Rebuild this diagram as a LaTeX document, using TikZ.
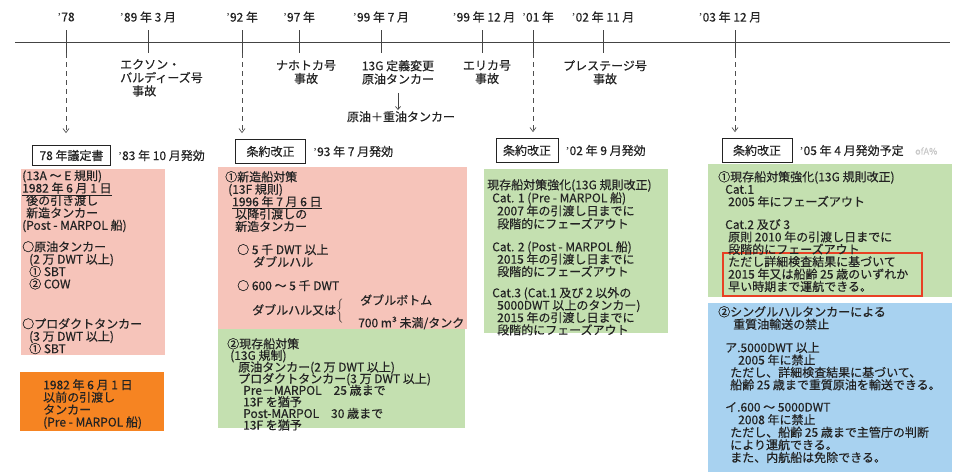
\documentclass[tikz,border=0pt]{standalone}
\usepackage{fontspec}
\setmainfont{Noto Sans CJK JP}[FakeBold=0.4]
\newfontfamily\latinfont{Liberation Serif}
\usetikzlibrary{positioning,arrows.meta}

\definecolor{ink}{RGB}{35,35,35}
\definecolor{pinkbox}{RGB}{246,196,186}
\definecolor{orangebox}{RGB}{246,132,34}
\definecolor{greenbox}{RGB}{196,224,176}
\definecolor{bluebox}{RGB}{168,210,240}
\definecolor{redframe}{RGB}{232,64,36}
\newcommand\ap{{\latinfont ’}}
\newcommand\txtsize{\fontsize{12}{12.4}\selectfont}
\lineskiplimit=-6pt

\begin{document}
\begin{tikzpicture}[x=1pt,y=-1pt,
  every node/.style={text=ink,font=\txtsize,inner sep=0pt},
  yearlbl/.style={anchor=center},
  event/.style={align=center,anchor=north,font=\fontsize{12}{13.3}\selectfont},
  body/.style={align=left,anchor=north west},
  treaty/.style={draw=ink,line width=0.8pt,minimum width=70pt,minimum height=24pt,inner xsep=7pt},
  tline/.style={draw=ink!85,line width=0.9pt},
  dashline/.style={draw=ink!80,line width=0.7pt,dash pattern=on 5pt off 4pt,-{Straight Barb[length=4pt,width=6pt]},shorten >=6pt}
]
 \useasboundingbox (0,0) rectangle (955,474);

 %Line
 \draw[tline] (15,42) -- (950,42);

 %Years
 \node[yearlbl] (y78) at (66,17) {\ap78};
 \node[yearlbl] (y89) at (148,17) {\ap89 年 3 月};
 \node[yearlbl] (y92) at (242,17) {\ap92 年};
 \node[yearlbl] (y97) at (299,17) {\ap97 年};
 \node[yearlbl] (y99a) at (381,17) {\ap99 年 7 月};
 \node[yearlbl] (y99b) at (484,17) {\ap99 年 12 月};
 \node[yearlbl] (y01) at (538,17) {\ap01 年};
 \node[yearlbl] (y02) at (603,17) {\ap02 年 11 月};
 \node[yearlbl] (y03) at (730,17) {\ap03 年 12 月};

 %Ticks
 \coordinate (d78) at (66,53);
 \coordinate (d92) at (242,53);
 \coordinate (d01) at (533,53);
 \coordinate (d03) at (735,53);
 \draw[tline] (66,30) -- (d78);
 \draw[tline] (148,30) -- (148,53);
 \draw[tline] (242,30) -- (d92);
 \draw[tline] (299,30) -- (299,53);
 \draw[tline] (381,30) -- (381,53);
 \draw[tline] (482,30) -- (482,53);
 \draw[tline] (533,30) -- (d01);
 \draw[tline] (603,30) -- (603,53);
 \draw[tline] (735,30) -- (d03);

 %Events
 \node[body,font=\fontsize{12}{13.3}\selectfont] (exxon) at (120,59) {エクソン・\\バルディーズ号\\\hspace*{12pt}事故};
 \node[event] (nakhodka) at (306,60) {ナホトカ号\\事故};
 \node[event] (redef) at (398,60) {13G 定義変更\\原油タンカー};
 \node[anchor=north] (heavy) at (401,111) {原油＋重油タンカー};
 \draw[ink!85,line width=0.7pt,-{Straight Barb[length=3pt,width=5pt]},shorten <=8pt,shorten >=1pt] (redef.south) -- (redef.south |- heavy.north);
 \node[event] (erika) at (487,60) {エリカ号\\事故};
 \node[event] (prestige) at (605,60) {プレステージ号\\事故};

 %Treaties
 \node[treaty,minimum height=20pt] (box78) at (71.5,155.5) {78 年議定書};
 \node[right=7pt of box78] (eff83) {\ap83 年 10 月発効};
 \node[treaty] (box92) at (270.5,151.5) {条約改正};
 \node[right=7pt of box92] (eff93) {\ap93 年 7 月発効};
 \node[treaty,minimum width=62pt] (box01) at (527,150.5) {条約改正};
 \node[right=7pt of box01] (eff02) {\ap02 年 9 月発効};
 \node[treaty] (box03) at (757,150.5) {条約改正};
 \node[right=7pt of box03] (eff05) {\ap05 年 4 月発効予定};
 \node[anchor=west,text=ink!25,font=\fontsize{9}{9}\selectfont] (stamp) at (915,151) {ofA\%};

 \draw[dashline,shorten >=12pt] (d78) -- (d78 |- box78.north);
 \draw[dashline] (d92) -- (d92 |- box92.north);
 \draw[dashline] (d01) -- (d01 |- box01.north);
 \draw[dashline] (d03) -- (d03 |- box03.north);

 %Boxes
 \fill[pinkbox] (21,169) rectangle (165,355);
 \fill[orangebox] (20,372) rectangle (164,431);
 \fill[pinkbox] (218,167) rectangle (467,329);
 \fill[greenbox] (218,329) rectangle (465,428);
 \fill[greenbox] (484,169) rectangle (668,333);
 \fill[greenbox] (708,164) rectangle (952,297);
 \draw[redframe,line width=1.3pt] (723,253) rectangle (922,296);
 \fill[bluebox] (708,303) rectangle (952,472);

 %78 protocol
 \node[body] (p78a) at (22,170) {(13A ～ E 規則)\\\underline{1982 年 6 月 1 日}\\\hspace*{4pt}後の引き渡し\\\hspace*{4pt}新造タンカー\\(Post - MARPOL 船)};
 \node[body] (p78b) at (22,241) {○原油タンカー\\\hspace*{7pt}(2 万 DWT 以上)\\\hspace*{7pt}① SBT\\\hspace*{7pt}② COW};
 \node[body] (p78c) at (22,318) {○プロダクトタンカー\\\hspace*{7pt}(3 万 DWT 以上)\\\hspace*{7pt}① SBT};
 \node[body] (o78) at (43,379) {1982 年 6 月 1 日\\以前の引渡し\\タンカー\\(Pre - MARPOL 船)};

 %92 amendment
 \node[body] (p92a) at (225,171) {①新造船対策\\\hspace*{3pt}(13F 規則)\\\hspace*{7pt}\underline{1996 年 7 月 6 日}\\\hspace*{10pt}以降引渡しの\\\hspace*{10pt}新造タンカー};
 \node[body] (p92b) at (237,244) {○ 5 千 DWT 以上\\\hspace*{16pt}ダブルハル};
 \node[body] (p92c) at (237,280) {○ 600 ～ 5 千 DWT};
 \node[anchor=west] (dh) at (252,312) {ダブルハル又は$\left\{\rule[-10pt]{0pt}{22pt}\right.$};
 \node[anchor=west] (db) at (360,300) {ダブルボトム};
 \node[anchor=west] (m700) at (358,323) {700 m³ 未満/タンク};
 \node[body,font=\fontsize{12}{11.6}\selectfont] (g92) at (227,338) {②現存船対策\\\hspace*{3pt}(13G 規制)\\\hspace*{11pt}原油タンカー(2 万 DWT 以上)\\\hspace*{11pt}プロダクトタンカー(3 万 DWT 以上)\\\hspace*{16pt}Pre－MARPOL\hspace{12pt}25 歳まで\\\hspace*{16pt}13F を猶予\\\hspace*{16pt}Post-MARPOL\hspace{12pt}30 歳まで\\\hspace*{16pt}13F を猶予};

 %01 amendment
 \node[body,font=\fontsize{12}{13}\selectfont] (g01a) at (487,179) {現存船対策強化(13G 規則改正)\\\hspace*{5pt}Cat. 1 (Pre - MARPOL 船)\\\hspace*{10pt}2007 年の引渡し日までに\\\hspace*{10pt}段階的にフェーズアウト};
 \node[body] (g01b) at (487,241) {\hspace*{5pt}Cat. 2 (Post - MARPOL 船)\\\hspace*{10pt}2015 年の引渡し日までに\\\hspace*{10pt}段階的にフェーズアウト};
 \node[body] (g01c) at (487,287) {\hspace*{5pt}Cat.3 (Cat.1 及び 2 以外の\\\hspace*{10pt}5000DWT 以上のタンカー)\\\hspace*{10pt}2015 年の引渡し日までに\\\hspace*{10pt}段階的にフェーズアウト};

 %03 amendment
 \node[body] (g03a) at (718,171) {①現存船対策強化(13G 規則改正)\\\hspace*{7pt}Cat.1\\\hspace*{10pt}2005 年にフェーズアウト};
 \node[body] (g03b) at (718,219) {\hspace*{7pt}Cat.2 及び 3\\\hspace*{10pt}原則 2010 年の引渡し日までに\\\hspace*{10pt}段階的にフェーズアウト\\\hspace*{10pt}ただし詳細検査結果に基づいて\\\hspace*{10pt}2015 年又は船齢 25 歳のいずれか\\\hspace*{10pt}早い時期まで運航できる。};
 \node[body] (b03a) at (718,306) {②シングルハルタンカーによる\\\hspace*{15pt}重質油輸送の禁止};
 \node[body] (b03b) at (718,342) {\hspace*{7pt}ア.5000DWT 以上\\\hspace*{20pt}2005 年に禁止\\\hspace*{12pt}ただし、詳細検査結果に基づいて、\\\hspace*{12pt}船齢 25 歳まで重質原油を輸送できる。};
 \node[body,font=\fontsize{12}{12.6}\selectfont] (b03c) at (718,402) {\hspace*{7pt}イ.600 ～ 5000DWT\\\hspace*{20pt}2008 年に禁止\\\hspace*{12pt}ただし、船齢 25 歳まで主管庁の判断\\\hspace*{12pt}により運航できる。\\\hspace*{12pt}また、内航船は免除できる。};

\end{tikzpicture}
\end{document}
